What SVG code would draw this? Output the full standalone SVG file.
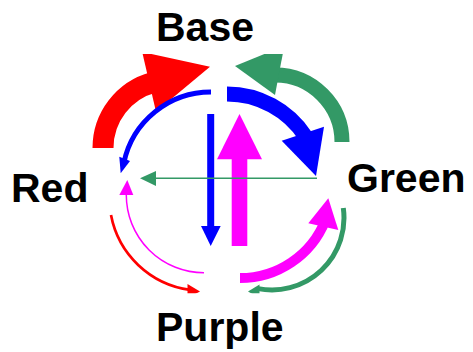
<svg xmlns="http://www.w3.org/2000/svg" width="473" height="352" viewBox="0 0 473 352">
  <style>
    .lbl { font-family: "Liberation Sans", Arial, sans-serif; font-weight: bold; font-size: 41px; fill: #000; }
    .band { fill: none; stroke-linecap: butt; }
    .red { stroke: #ff0000; } .redf { fill: #ff0000; }
    .blue { stroke: #0000ff; } .bluef { fill: #0000ff; }
    .mag { stroke: #ff00ff; } .magf { fill: #ff00ff; }
    .grn { stroke: #339966; } .grnf { fill: #339966; }
  </style>
  <defs>
    <clipPath id="frame">
      <rect x="0" y="54" width="473" height="239.3"/>
    </clipPath>
  </defs>
  <rect width="473" height="352" fill="#ffffff"/>

  <g id="connectors" clip-path="url(#frame)">
    <!-- Red big: Red -> Base -->
    <path class="band red" stroke-width="21" d="M103,148 A68,68 0 0 1 153.4,82.3"/>
    <polygon class="redf" points="142.2,52 210,66.7 156,111.7"/>
    <!-- Green big: Green -> Base -->
    <path class="band grn" stroke-width="15" d="M342,142 A67,67 0 0 0 275,75"/>
    <polygon class="grnf" points="235,66 270.5,51.5 283.2,51.5 275,95"/>
    <!-- Blue big: Base -> Green -->
    <path class="band blue" stroke-width="15" d="M227,94 A94,94 0 0 1 305.8,136.8"/>
    <polygon class="bluef" points="281.7,140.7 324,126.7 316,176"/>
    <!-- Blue thin: Base -> Red -->
    <path class="band blue" stroke-width="5" d="M211,92 A89,89 0 0 0 123.9,162.5"/>
    <polygon class="bluef" points="119.3,156.7 130,161 120.7,173.3"/>
    <!-- Blue vertical: Base -> Purple -->
    <line class="blue" stroke-width="7" x1="210.7" y1="114" x2="210.7" y2="227"/>
    <polygon class="bluef" points="201,226 220.7,226 210.7,246"/>
    <!-- Magenta vertical: Purple -> Base -->
    <line class="mag" stroke-width="15.6" x1="239.5" y1="246" x2="239.5" y2="158"/>
    <polygon class="magf" points="217,159.3 262,159.3 239.5,114"/>
    <!-- Green horizontal: Green -> Red -->
    <line class="grn" stroke-width="1.5" x1="317" y1="178.3" x2="155" y2="178.3"/>
    <polygon class="grnf" points="140,178.3 156,171 156,186"/>
    <!-- Magenta big: Purple -> Green -->
    <path class="band mag" stroke-width="10" d="M240,278 A92,92 0 0 0 325.3,220.5"/>
    <polygon class="magf" points="308.3,223.3 328.3,198.3 338.3,230"/>
    <!-- Magenta thin: Purple -> Red -->
    <path class="band mag" stroke-width="1.5" d="M204,272.7 A77.7,77.7 0 0 1 126.3,195"/>
    <polygon class="magf" points="119.3,195 133.3,195 127.3,180"/>
    <!-- Red thin: Red -> Purple -->
    <path class="band red" stroke-width="2.7" d="M111,215 A93,93 0 0 0 190,289.8"/>
    <polygon class="redf" points="187.5,284 200,291.5 187.5,298"/>
    <!-- Green thin: Green -> Purple -->
    <path class="band grn" stroke-width="5" d="M343.3,208 A72,72 0 0 1 258,288.6"/>
    <polygon class="grnf" points="259.5,284.5 248,291.5 259.5,298"/>
  </g>

  <g id="node-base"><text class="lbl" x="156" y="41">Base</text></g>
  <g id="node-red"><text class="lbl" x="11" y="202">Red</text></g>
  <g id="node-green"><text class="lbl" x="347" y="192">Green</text></g>
  <g id="node-purple"><text class="lbl" x="156" y="341">Purple</text></g>
</svg>
